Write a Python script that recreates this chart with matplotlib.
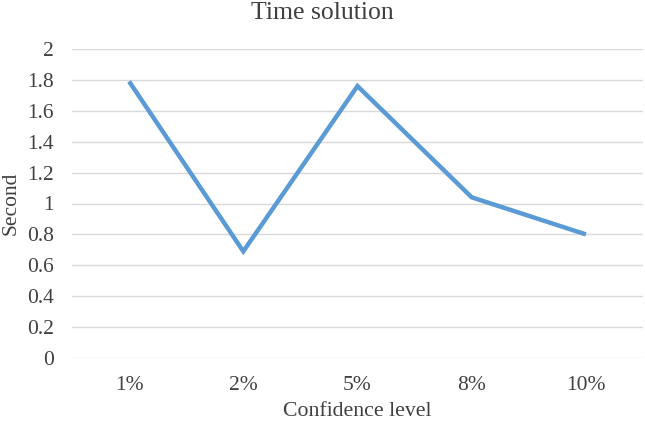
import matplotlib
matplotlib.use("Agg")
import matplotlib.pyplot as plt

categories = ["1%", "2%", "5%", "8%", "10%"]
seconds = [1.79, 0.69, 1.76, 1.04, 0.80]
yticks = [0, 0.2, 0.4, 0.6, 0.8, 1, 1.2, 1.4, 1.6, 1.8, 2]
ytick_labels = ["0", "0.2", "0.4", "0.6", "0.8", "1", "1.2", "1.4", "1.6", "1.8", "2"]

plt.rcParams['font.family'] = ['Liberation Serif', 'DejaVu Serif']

fig = plt.figure(figsize=(6.45, 4.22), dpi=100)
ax = fig.add_axes([72/645, 1 - 358/422, (643-72)/645, (358-49)/422])

x = list(range(len(categories)))
ax.plot(x, seconds, color="#5B9BD5", linewidth=3.2, solid_capstyle="butt", solid_joinstyle="miter", zorder=3)

ax.set_xlim(-0.5, len(categories) - 0.5)
ax.set_ylim(0, 2)
ax.set_yticks(yticks)
ax.set_yticklabels(ytick_labels)
ax.set_xticks(x)
ax.set_xticklabels(categories)
ax.grid(axis="y", color="#D9D9D9", linewidth=1.0)
ax.set_axisbelow(True)
for s in ax.spines.values():
    s.set_visible(False)
ax.tick_params(axis="both", length=0, labelsize=15.5, colors="#404040")
ax.tick_params(axis="y", pad=13)
ax.tick_params(axis="x", pad=13)

fig.text(0.5, 1 - 13/422, "Time solution", fontsize=18.5, color="#404040", ha="center", va="center")
fig.text(357.5/645, 1 - 412/422, "Confidence level", fontsize=15.7, color="#404040", ha="center", va="center")
fig.text(11/645, 1 - 203/422, "Second", fontsize=15.5, color="#404040", ha="center", va="center", rotation=90)

fig.savefig("out.png", dpi=100, facecolor="white")
